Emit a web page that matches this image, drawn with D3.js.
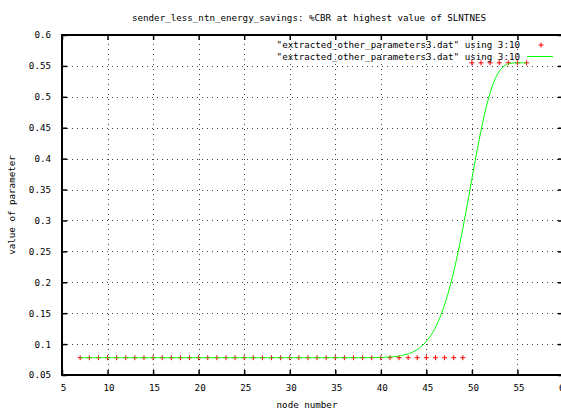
<!DOCTYPE html>
<html>
<head>
<meta charset="utf-8">
<script src="https://cdn.jsdelivr.net/npm/d3@7"></script>
<style>
  html, body { margin: 0; padding: 0; background: #fff; }
  svg { display: block; }
  text { font-family: "DejaVu Sans Mono", "Liberation Mono", monospace; font-size: 9.2px; fill: #000; }
</style>
</head>
<body>
<script>
// node numbers and %CBR values (column 3 vs column 10)
const nodeNumbers = [7, 8, 9, 10, 11, 12, 13, 14, 15, 16, 17, 18, 19, 20, 21, 22, 23, 24, 25, 26,
  27, 28, 29, 30, 31, 32, 33, 34, 35, 36, 37, 38, 39, 40, 41, 42, 43, 44, 45, 46, 47, 48, 49,
  50, 51, 52, 53, 54, 55, 56];
const cbrValues = [0.078, 0.078, 0.078, 0.078, 0.078, 0.078, 0.078, 0.078, 0.078, 0.078,
  0.078, 0.078, 0.078, 0.078, 0.078, 0.078, 0.078, 0.078, 0.078, 0.078,
  0.078, 0.078, 0.078, 0.078, 0.078, 0.078, 0.078, 0.078, 0.078, 0.078,
  0.078, 0.078, 0.078, 0.078, 0.078, 0.078, 0.078, 0.078, 0.078, 0.078,
  0.078, 0.078, 0.078,
  0.555, 0.555, 0.555, 0.555, 0.555, 0.555, 0.555];

const xTicks = [5, 10, 15, 20, 25, 30, 35, 40, 45, 50, 55, 60];
const yTicks = [0.05, 0.1, 0.15, 0.2, 0.25, 0.3, 0.35, 0.4, 0.45, 0.5, 0.55, 0.6];

const titleText = "sender_less_ntn_energy_savings: %CBR at highest value of SLNTNES";
const xLabel = "node number";
const yLabel = "value of parameter";
const seriesNames = ['"extracted_other_parameters3.dat" using 3:10',
                     '"extracted_other_parameters3.dat" using 3:10'];

const W = 561, H = 411;
const plot = { left: 62, right: 563, top: 35, bottom: 375 };

const svg = d3.select("body").append("svg").attr("width", W).attr("height", H);
svg.append("rect").attr("width", W).attr("height", H).attr("fill", "#fff");

const x = d3.scaleLinear().domain([5, 60]).range([plot.left, plot.right]);
const y = d3.scaleLinear().domain([0.05, 0.6]).range([plot.bottom, plot.top]);

// dotted grid
const grid = svg.append("g").attr("stroke", "#444").attr("stroke-width", 1)
  .attr("stroke-dasharray", "1 4");
grid.selectAll("line.v").data(xTicks.slice(1, -1)).join("line")
  .attr("x1", d => Math.round(x(d)) + 0.5).attr("x2", d => Math.round(x(d)) + 0.5)
  .attr("y1", plot.bottom).attr("y2", plot.top);
grid.selectAll("line.h").data(yTicks.slice(1, -1)).join("line")
  .attr("y1", d => Math.round(y(d)) + 0.5).attr("y2", d => Math.round(y(d)) + 0.5)
  .attr("x1", plot.left).attr("x2", plot.right);

// axes with inward ticks on all four sides
const tick = 5;
const fmt = d3.format("~g");
const axB = d3.axisBottom(x).tickValues(xTicks).tickSize(-tick).tickPadding(9).tickFormat(fmt);
const axT = d3.axisTop(x).tickValues(xTicks).tickSize(-tick).tickFormat("");
const axL = d3.axisLeft(y).tickValues(yTicks).tickSize(-tick).tickPadding(11).tickFormat(fmt);
const axR = d3.axisRight(y).tickValues(yTicks).tickSize(-tick).tickFormat("");

function styleAxis(g) {
  g.select(".domain").remove();
  g.selectAll(".tick line").attr("stroke", "#000").attr("stroke-width", 1.5);
  g.selectAll("text").attr("fill", "#000")
    .style("font-family", '"DejaVu Sans Mono", "Liberation Mono", monospace')
    .style("font-size", "9.2px");
}
svg.append("g").attr("transform", `translate(0,${plot.bottom})`).call(axB).call(styleAxis)
  .selectAll("text").attr("dx", 1);
svg.append("g").attr("transform", `translate(0,${plot.top})`).call(axT).call(styleAxis);
svg.append("g").attr("transform", `translate(${plot.left},0)`).call(axL).call(styleAxis);
svg.append("g").attr("transform", `translate(${plot.right},0)`).call(axR).call(styleAxis);

// border
svg.append("rect")
  .attr("x", plot.left).attr("y", plot.top)
  .attr("width", plot.right - plot.left).attr("height", plot.bottom - plot.top)
  .attr("fill", "none").attr("stroke", "#000").attr("stroke-width", 2);

// titles
svg.append("text").attr("x", 309).attr("y", 18).attr("text-anchor", "middle")
  .attr("dominant-baseline", "middle").text(titleText);
svg.append("text").attr("x", 307).attr("y", 405).attr("text-anchor", "middle")
  .attr("dominant-baseline", "middle").text(xLabel);
svg.append("text").attr("transform", "translate(12,205) rotate(-90)")
  .attr("text-anchor", "middle").attr("dominant-baseline", "middle").text(yLabel);

const data = nodeNumbers.map((n, i) => ({ x: n, y: cbrValues[i] }));

// red "+" point markers
const arm = 2.5;
const pts = svg.append("g").attr("stroke", "#ff0000").attr("stroke-width", 1);
function plus(g, cx, cy) {
  g.append("line").attr("x1", cx - arm).attr("x2", cx + arm).attr("y1", cy).attr("y2", cy);
  g.append("line").attr("x1", cx).attr("x2", cx).attr("y1", cy - arm).attr("y2", cy + arm);
}
data.forEach(d => plus(pts, x(d.x), y(d.y)));

// Bezier smoothing of the whole data set (degree n = points - 1), de Casteljau
function bezier(points, samples) {
  const out = [];
  for (let s = 0; s <= samples; s++) {
    const t = s / samples;
    let px = points.map(p => p.x), py = points.map(p => p.y);
    for (let k = px.length - 1; k > 0; k--) {
      for (let i = 0; i < k; i++) {
        px[i] = px[i] + t * (px[i + 1] - px[i]);
        py[i] = py[i] + t * (py[i + 1] - py[i]);
      }
    }
    out.push({ x: px[0], y: py[0] });
  }
  return out;
}
const smooth = bezier(data, 400);
const line = d3.line().x(d => x(d.x)).y(d => y(d.y));
svg.append("path").datum(smooth).attr("d", line)
  .attr("fill", "none").attr("stroke", "#00ff00").attr("stroke-width", 1);

// legend
const leg = svg.append("g");
leg.append("text").attr("x", 520).attr("y", 45).attr("text-anchor", "end")
  .attr("dominant-baseline", "middle").text(seriesNames[0]);
leg.append("text").attr("x", 520).attr("y", 57).attr("text-anchor", "end")
  .attr("dominant-baseline", "middle").text(seriesNames[1]);
const legPts = leg.append("g").attr("stroke", "#ff0000").attr("stroke-width", 1);
plus(legPts, 541, 45);
leg.append("line").attr("x1", 527).attr("x2", 553).attr("y1", 56.5).attr("y2", 56.5)
  .attr("stroke", "#00ff00").attr("stroke-width", 1);
</script>
</body>
</html>
